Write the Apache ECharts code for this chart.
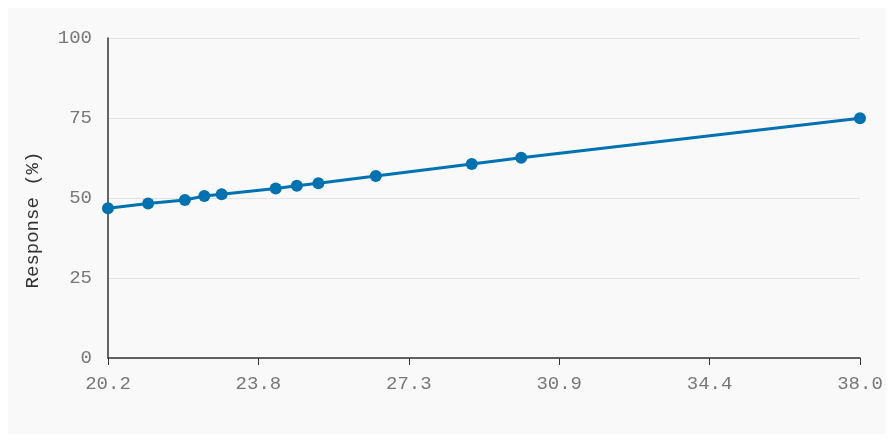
<!DOCTYPE html>
<html>
<head>
<meta charset="utf-8">
<script src="https://cdn.jsdelivr.net/npm/echarts@6/dist/echarts.min.js"></script>
<style>
  body { margin: 8px; background: #fff; }
  #chart { width: 878px; height: 426px; background: #f9f9f9; }
</style>
</head>
<body>
<div id="chart"></div>
<script>
// data
const xValues = [20.2, 21.15, 22.02, 22.48, 22.89, 24.17, 24.67, 25.18, 26.54, 28.81, 29.98, 38.0];
const yValues = [46.8, 48.3, 49.4, 50.6, 51.2, 53.0, 53.8, 54.6, 56.9, 60.6, 62.6, 74.9];
const yTicks = [0, 25, 50, 75, 100];

const chart = echarts.init(document.getElementById("chart"));
const font = "Liberation Mono";

const option = {
  animation: false,
  grid: { left: 100, right: 26, top: 30, bottom: 76 },
  xAxis: {
    type: "value",
    min: 20.2,
    max: 38.0,
    interval: (38.0 - 20.2) / 5,
    axisLine: { lineStyle: { color: "#333", width: 1.5 } },
    axisTick: { show: true, length: 7, lineStyle: { color: "#333" } },
    axisLabel: {
      color: "#777",
      fontFamily: font,
      fontSize: 19,
      margin: 16,
      formatter: (v) => v.toFixed(1),
    },
    splitLine: { show: false },
  },
  yAxis: {
    type: "value",
    min: yTicks[0],
    max: yTicks[yTicks.length - 1],
    interval: 25,
    name: "Response (%)",
    nameLocation: "middle",
    nameGap: 66,
    nameTextStyle: { color: "#333", fontFamily: font, fontSize: 19, padding: [0, 44, 0, 0] },
    axisLine: { show: true, lineStyle: { color: "#333", width: 1.5 } },
    axisTick: { show: false },
    axisLabel: { color: "#777", fontFamily: font, fontSize: 19, margin: 16 },
    splitLine: { lineStyle: { color: "#e2e2e2", width: 1 } },
  },
  series: [
    {
      type: "line",
      data: xValues.map((x, i) => [x, yValues[i]]),
      symbol: "circle",
      symbolSize: 12,
      lineStyle: { color: "#0072B2", width: 3 },
      itemStyle: { color: "#0072B2" },
    },
  ],
};

chart.setOption(option);
</script>
</body>
</html>
